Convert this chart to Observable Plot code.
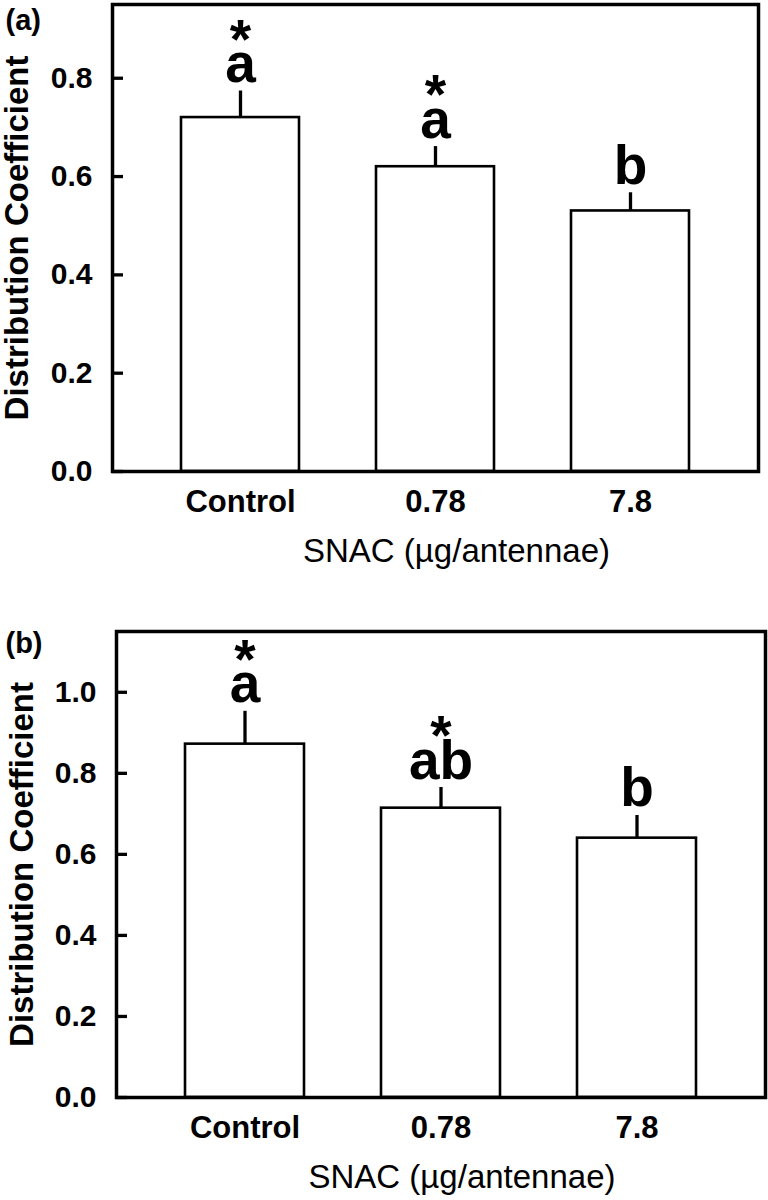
<!DOCTYPE html>
<html>
<head>
<meta charset="utf-8">
<script src="https://cdn.jsdelivr.net/npm/d3@7"></script>
<script src="https://cdn.jsdelivr.net/npm/@observablehq/plot@0.6"></script>
<style>
  body { margin: 0; background: #fff; }
  #chart svg { display: block; }
</style>
</head>
<body>
<div id="chart"></div>
<script>
// ---- data ----
const categories = ["Control", "0.78", "7.8"];

const panelLabels = ["(a)", "(b)"];
const yTitle = "Distribution Coefficient";
const xTitle = "SNAC (µg/antennae)";

// panel (a)
const meanA = [0.72, 0.62, 0.53];
const errA = [0.054, 0.041, 0.037];
const lettersA = ["a", "a", "b"];
const starsA = ["*", "*", ""];
const yTicksA = [0, 0.2, 0.4, 0.6, 0.8];
const yMaxA = 0.95;

// panel (b)
const meanB = [0.872, 0.714, 0.640];
const errB = [0.081, 0.051, 0.056];
const lettersB = ["a", "ab", "b"];
const starsB = ["*", "*", ""];
const yTicksB = [0, 0.2, 0.4, 0.6, 0.8, 1.0];
const yMaxB = 1.15;

const FONT = "'Liberation Sans', Arial, Helvetica, sans-serif";

function panel({label, mean, err, letters, stars, yTicks, yMax, margins}) {
  const rows = categories.map((c, i) => ({
    cat: c, mean: mean[i], top: mean[i] + err[i],
    annot: stars[i] ? stars[i] + "\n" + letters[i] : letters[i]
  }));
  const W = 768, H = 600;
  const plotW = W - margins.left - margins.right;
  return Plot.plot({
    width: W,
    height: H,
    marginTop: margins.top,
    marginBottom: margins.bottom,
    marginLeft: margins.left,
    marginRight: margins.right,
    style: {fontFamily: FONT, color: "black", background: "white", overflow: "visible"},
    x: {type: "band", domain: categories, paddingInner: 0.395, paddingOuter: 0.35},
    y: {domain: [0, yMax]},
    marks: [
      Plot.barY(rows, {x: "cat", y: "mean", fill: "white", stroke: "black", strokeWidth: 2.6}),
      Plot.ruleX(rows, {x: "cat", y1: "mean", y2: "top", stroke: "black", strokeWidth: 3.3}),
      Plot.ruleY(yTicks, {y: d => d, insetRight: plotW - 11, stroke: "black", strokeWidth: 3.3}),
      Plot.frame({stroke: "black", strokeWidth: 3.5}),
      Plot.axisY({ticks: yTicks, tickSize: 0, tickPadding: 20, tickFormat: d3.format(".1f"),
                  fontSize: 30, fontWeight: "bold", label: null}),
      Plot.axisX({tickSize: 0, tickPadding: 18, fontSize: 31, fontWeight: "bold", label: null}),
      Plot.text(rows, {x: "cat", y: "top", text: "annot", fontSize: 55, fontWeight: "bold",
                       lineAnchor: "bottom", lineHeight: 0.44, dy: -9}),
      Plot.text([yTitle], {frameAnchor: "left", textAnchor: "middle", lineAnchor: "middle",
                           rotate: -90, dx: margins.titleDx, fontSize: 33, fontWeight: "bold"}),
      Plot.text([xTitle], {frameAnchor: "bottom", textAnchor: "middle", lineAnchor: "middle",
                           dx: 21, dy: 80, fontSize: 33}),
      Plot.text([label], {frameAnchor: "top-left", textAnchor: "start", lineAnchor: "bottom",
                          dx: 5 - margins.left, dy: margins.labelDy, fontSize: 29, fontWeight: "bold"})
    ]
  });
}

const chart = document.getElementById("chart");
chart.appendChild(panel({
  label: panelLabels[0], mean: meanA, err: errA, letters: lettersA, stars: starsA,
  yTicks: yTicksA, yMax: yMaxA,
  margins: {top: 4, bottom: 129, left: 112, right: 10, titleDx: -95, labelDy: 25}
}));
chart.appendChild(panel({
  label: panelLabels[1], mean: meanB, err: errB, letters: lettersB, stars: starsB,
  yTicks: yTicksB, yMax: yMaxB,
  margins: {top: 31, bottom: 103, left: 116, right: 3, titleDx: -94, labelDy: 21}
}));
</script>
</body>
</html>
